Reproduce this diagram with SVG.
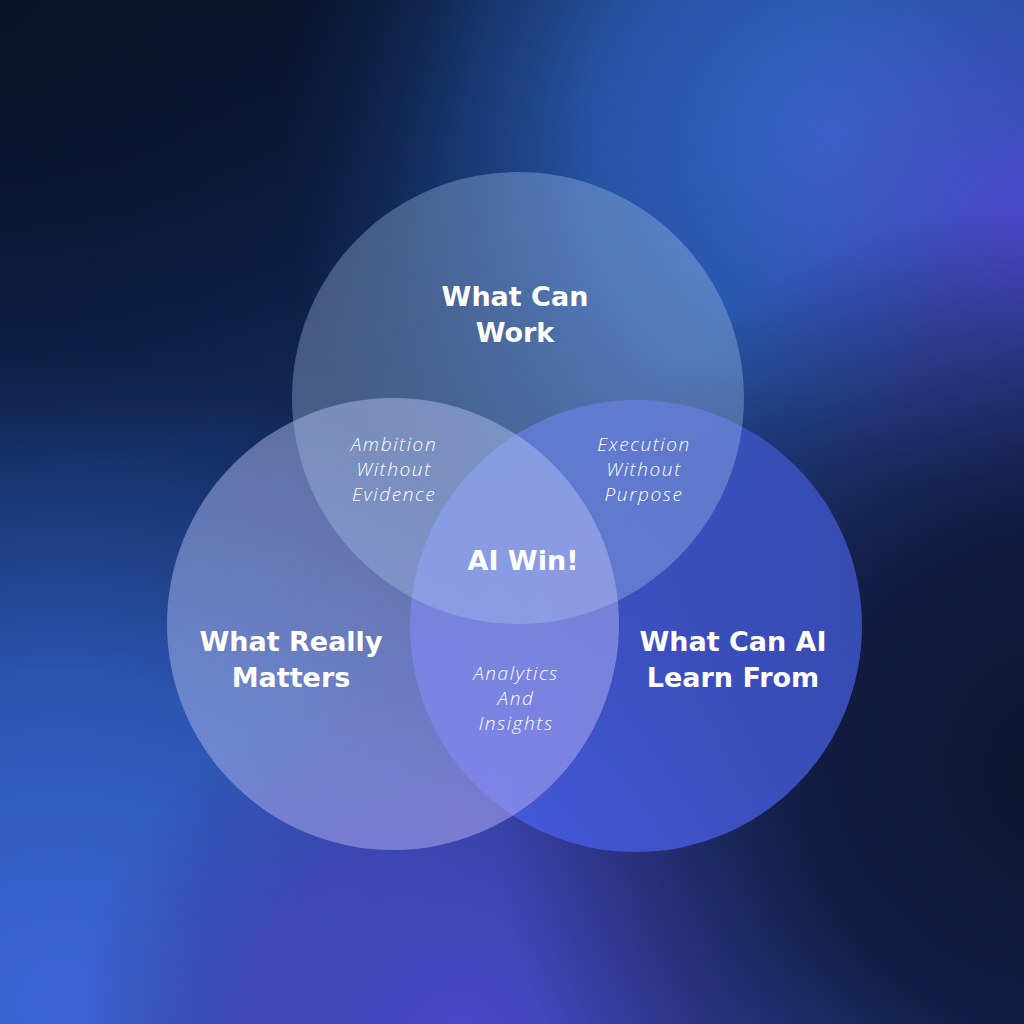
<svg xmlns="http://www.w3.org/2000/svg" width="1024" height="1024" viewBox="0 0 1024 1024">
<defs>
<linearGradient id="base" x1="0" y1="0" x2="0" y2="1">
<stop offset="0" stop-color="#0a1630"/>
<stop offset="0.6" stop-color="#162f66"/>
<stop offset="1" stop-color="#2a50b0"/>
</linearGradient>
<radialGradient id="g1" cx="840" cy="140" r="560" gradientUnits="userSpaceOnUse">
<stop offset="0" stop-color="#3866cc" stop-opacity="1"/>
<stop offset="0.45" stop-color="#2a5cb4" stop-opacity="0.85"/>
<stop offset="1" stop-color="#1c4490" stop-opacity="0"/>
</radialGradient>
<radialGradient id="g2" cx="1040" cy="240" r="300" gradientUnits="userSpaceOnUse">
<stop offset="0" stop-color="#5048d0" stop-opacity="1"/>
<stop offset="1" stop-color="#4448c0" stop-opacity="0"/>
</radialGradient>
<radialGradient id="g3" cx="60" cy="1000" r="640" gradientUnits="userSpaceOnUse">
<stop offset="0" stop-color="#3c64d6" stop-opacity="1"/>
<stop offset="0.5" stop-color="#3060c4" stop-opacity="0.75"/>
<stop offset="1" stop-color="#2450a8" stop-opacity="0"/>
</radialGradient>
<radialGradient id="g4" cx="460" cy="1040" r="380" gradientUnits="userSpaceOnUse">
<stop offset="0" stop-color="#4a48c8" stop-opacity="1"/>
<stop offset="0.6" stop-color="#4240b0" stop-opacity="0.7"/>
<stop offset="1" stop-color="#3a3898" stop-opacity="0"/>
</radialGradient>
<radialGradient id="g5" cx="1070" cy="780" r="580" gradientUnits="userSpaceOnUse">
<stop offset="0" stop-color="#0b162e" stop-opacity="1"/>
<stop offset="0.45" stop-color="#101a3c" stop-opacity="0.92"/>
<stop offset="0.75" stop-color="#1a1f50" stop-opacity="0.5"/>
<stop offset="1" stop-color="#1a1f50" stop-opacity="0"/>
</radialGradient>
<radialGradient id="g6" cx="0" cy="0" r="480" gradientUnits="userSpaceOnUse">
<stop offset="0" stop-color="#08132a" stop-opacity="1"/>
<stop offset="1" stop-color="#08132a" stop-opacity="0"/>
</radialGradient>
<linearGradient id="fl" x1="0" y1="0" x2="1" y2="1">
<stop offset="0" stop-color="#a8b8e8"/>
<stop offset="1" stop-color="#b8b0f8"/>
</linearGradient>
<linearGradient id="fr" x1="0" y1="1" x2="1" y2="0">
<stop offset="0" stop-color="#4a5ee8"/>
<stop offset="1" stop-color="#3c52c0"/>
</linearGradient>
</defs>
<style>
.title{font-family:"DejaVu Sans","Liberation Sans",sans-serif;font-weight:bold;font-size:27px;fill:#ffffff;text-anchor:middle}
.sub{font-family:"Open Sans","DejaVu Sans",sans-serif;font-weight:300;font-style:italic;font-size:19px;fill:#ffffff;text-anchor:middle;letter-spacing:1.6px}
</style>
<rect width="1024" height="1024" fill="url(#base)"/>
<rect width="1024" height="1024" fill="url(#g1)"/>
<rect width="1024" height="1024" fill="url(#g2)"/>
<rect width="1024" height="1024" fill="url(#g3)"/>
<rect width="1024" height="1024" fill="url(#g4)"/>
<rect width="1024" height="1024" fill="url(#g5)"/>
<rect width="1024" height="1024" fill="url(#g6)"/>

<g id="circle-right"><circle cx="636" cy="626" r="226" fill="url(#fr)" fill-opacity="0.82"/></g>
<g id="circle-left"><circle cx="393" cy="624" r="226" fill="url(#fl)" fill-opacity="0.5"/></g>
<g id="circle-top"><circle cx="518" cy="398" r="226" fill="#b0cef4" fill-opacity="0.33"/></g>

<g id="label-top">
<text class="title" x="515" y="306">What Can</text>
<text class="title" x="515" y="342">Work</text>
</g>
<g id="label-left">
<text class="title" x="291" y="651">What Really</text>
<text class="title" x="291" y="687">Matters</text>
</g>
<g id="label-right">
<text class="title" x="733" y="651">What Can AI</text>
<text class="title" x="733" y="687">Learn From</text>
</g>
<g id="label-center">
<text class="title" x="523" y="570">AI Win!</text>
</g>
<g id="label-top-left">
<text class="sub" x="394" y="451">Ambition</text>
<text class="sub" x="394" y="476">Without</text>
<text class="sub" x="394" y="501">Evidence</text>
</g>
<g id="label-top-right">
<text class="sub" x="644" y="451">Execution</text>
<text class="sub" x="644" y="476">Without</text>
<text class="sub" x="644" y="501">Purpose</text>
</g>
<g id="label-bottom">
<text class="sub" x="516" y="680">Analytics</text>
<text class="sub" x="516" y="705">And</text>
<text class="sub" x="516" y="730">Insights</text>
</g>
<g id="connectors"/>
</svg>
